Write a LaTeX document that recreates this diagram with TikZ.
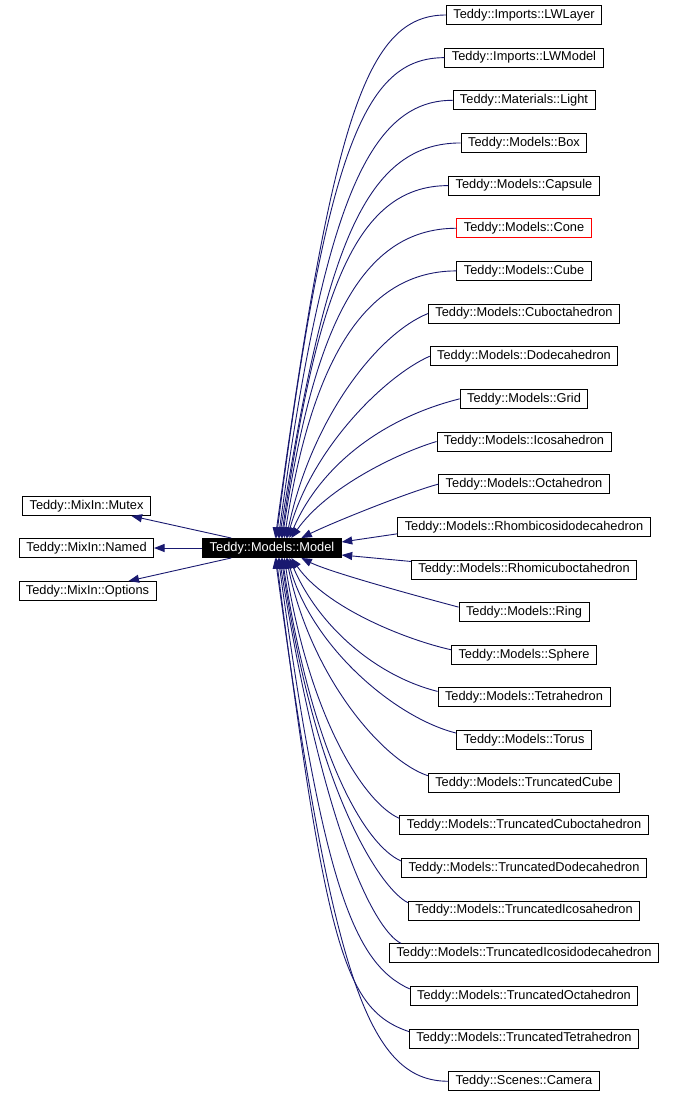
\documentclass[tikz,border=0pt]{standalone}
\usepackage{fontspec}
\newfontfamily\gvfont{Liberation Sans}
\usetikzlibrary{arrows.meta,calc}
\definecolor{edgeblue}{HTML}{191970}
\tikzset{
  cls/.style={draw=black, line width=0.9pt, fill=white, minimum height=19pt,
    inner xsep=7pt, inner ysep=0pt, font=\gvfont\fontsize{12.8}{14}\selectfont},
  hot/.style={cls, draw=red},
  focus/.style={cls, fill=black, text=white},
  inh/.style={draw=edgeblue, line width=0.9pt, -{Triangle[length=10.5pt,width=8pt]}}
}
\begin{document}
\begin{tikzpicture}[x=1pt,y=-1pt]
\fill[white] (0,0) rectangle (676,1097);
\useasboundingbox (0,0) rectangle (676,1097);
% central node
\node[focus] (model) at (272,548) {Teddy::Models::Model};
% base classes
\node[cls] (mutex) at (86.5,506) {Teddy::MixIn::Mutex};
\node[cls] (named) at (86.5,548) {Teddy::MixIn::Named};
\node[cls] (options) at (87.5,591) {Teddy::MixIn::Options};
% derived classes
\node[cls] (lwlayer) at (524,15) {Teddy::Imports::LWLayer};
\node[cls] (lwmodel) at (524,57.65) {Teddy::Imports::LWModel};
\node[cls] (light) at (524,100.3) {Teddy::Materials::Light};
\node[cls] (box) at (524,142.95) {Teddy::Models::Box};
\node[cls] (capsule) at (524,185.6) {Teddy::Models::Capsule};
\node[hot] (cone) at (524,228.25) {Teddy::Models::Cone};
\node[cls] (cube) at (524,270.9) {Teddy::Models::Cube};
\node[cls] (cuboct) at (524,313.55) {Teddy::Models::Cuboctahedron};
\node[cls] (dodec) at (524,356.2) {Teddy::Models::Dodecahedron};
\node[cls] (grid) at (524,398.85) {Teddy::Models::Grid};
\node[cls] (icosa) at (524,441.5) {Teddy::Models::Icosahedron};
\node[cls] (octa) at (524,484.15) {Teddy::Models::Octahedron};
\node[cls] (rhombi) at (524,526.8) {Teddy::Models::Rhombicosidodecahedron};
\node[cls] (rhomicub) at (524,569.45) {Teddy::Models::Rhomicuboctahedron};
\node[cls] (ring) at (524,612.1) {Teddy::Models::Ring};
\node[cls] (sphere) at (524,654.75) {Teddy::Models::Sphere};
\node[cls] (tetra) at (524,697.4) {Teddy::Models::Tetrahedron};
\node[cls] (torus) at (524,740.05) {Teddy::Models::Torus};
\node[cls] (tcube) at (524,782.7) {Teddy::Models::TruncatedCube};
\node[cls] (tcuboct) at (524,825.35) {Teddy::Models::TruncatedCuboctahedron};
\node[cls] (tdodec) at (524,868) {Teddy::Models::TruncatedDodecahedron};
\node[cls] (ticosa) at (524,910.65) {Teddy::Models::TruncatedIcosahedron};
\node[cls] (tid) at (524,953.3) {Teddy::Models::TruncatedIcosidodecahedron};
\node[cls] (tocta) at (524,995.95) {Teddy::Models::TruncatedOctahedron};
\node[cls] (ttetra) at (524,1038.6) {Teddy::Models::TruncatedTetrahedron};
\node[cls] (camera) at (524,1081.25) {Teddy::Scenes::Camera};
% edges to base classes
\draw[inh] ($(model.north west)+(29,0)$) -- ($(mutex.south)+(45,0)$);
\draw[inh] (model.west) -- (named.east);
\draw[inh] ($(model.south west)+(29,0)$) -- ($(options.north)+(41,0)$);
% edges from derived classes (upper half)
\draw[inh] (lwlayer.west) .. controls +(-80,0) and +(57,-419) .. ($(model.north west)+(73,0)$);
\draw[inh] (lwmodel.west) .. controls +(-80,0) and +(50,-390) .. ($(model.north west)+(74,0)$);
\draw[inh] (light.west) .. controls +(-85,0) and +(45,-330) .. ($(model.north west)+(76,0)$);
\draw[inh] (box.west) .. controls +(-100,0) and +(45,-280) .. ($(model.north west)+(77,0)$);
\draw[inh] (capsule.west) .. controls +(-95,0) and +(35,-240) .. ($(model.north west)+(79,0)$);
\draw[inh] (cone.west) .. controls +(-100,0) and +(30,-200) .. ($(model.north west)+(80,0)$);
\draw[inh] (cube.west) .. controls +(-100,0) and +(25,-160) .. ($(model.north west)+(82,0)$);
\draw[inh] (cuboct.west) .. controls +(-50,20) and +(25,-120) .. ($(model.north west)+(84,0)$);
\draw[inh] (dodec.west) .. controls +(-45,20) and +(25,-90) .. ($(model.north west)+(85,0)$);
\draw[inh] (grid.west) .. controls +(-80,20) and +(30,-70) .. ($(model.north west)+(87,0)$);
\draw[inh] (icosa.west) .. controls +(-40,12) and +(35,-50) .. ($(model.north west)+(89,0)$);
\draw[inh] (octa.west) .. controls +(-30,8) and +(30,-15) .. ($(model.north west)+(99,0)$);
\draw[inh] ($(rhombi.west)+(0,7)$) -- ($(model.east)+(0,-6)$);
\draw[inh] ($(rhomicub.west)+(0,-8)$) -- ($(model.east)+(0,7)$);
% edges from derived classes (lower half)
\draw[inh] ($(ring.west)+(0,-5)$) .. controls +(-30,-8) and +(30,15) .. ($(model.south west)+(99,0)$);
\draw[inh] ($(sphere.west)+(0,-5)$) .. controls +(-45,-10) and +(35,50) .. ($(model.south west)+(89,0)$);
\draw[inh] ($(tetra.west)+(0,-6)$) .. controls +(-60,-15) and +(30,70) .. ($(model.south west)+(87,0)$);
\draw[inh] ($(torus.west)+(0,-7)$) .. controls +(-60,-15) and +(25,90) .. ($(model.south west)+(85,0)$);
\draw[inh] ($(tcube.west)+(0,-7)$) .. controls +(-45,-15) and +(25,120) .. ($(model.south west)+(84,0)$);
\draw[inh] ($(tcuboct.west)+(0,-7)$) .. controls +(-35,-15) and +(25,160) .. ($(model.south west)+(82,0)$);
\draw[inh] ($(tdodec.west)+(0,-7)$) .. controls +(-35,-15) and +(30,200) .. ($(model.south west)+(80,0)$);
\draw[inh] ($(ticosa.west)+(0,-8)$) .. controls +(-25,-12) and +(35,240) .. ($(model.south west)+(79,0)$);
\draw[inh] ($(tid.north west)+(12,0)$) .. controls +(-25,-12) and +(45,280) .. ($(model.south west)+(77,0)$);
\draw[inh] ($(tocta.west)+(0,-7)$) .. controls +(-55,-25) and +(45,330) .. ($(model.south west)+(76,0)$);
\draw[inh] ($(ttetra.west)+(0,-7)$) .. controls +(-65,-22) and +(50,390) .. ($(model.south west)+(74,0)$);
\draw[inh] (camera.west) .. controls +(-80,0) and +(57,419) .. ($(model.south west)+(73,0)$);
\end{tikzpicture}
\end{document}
